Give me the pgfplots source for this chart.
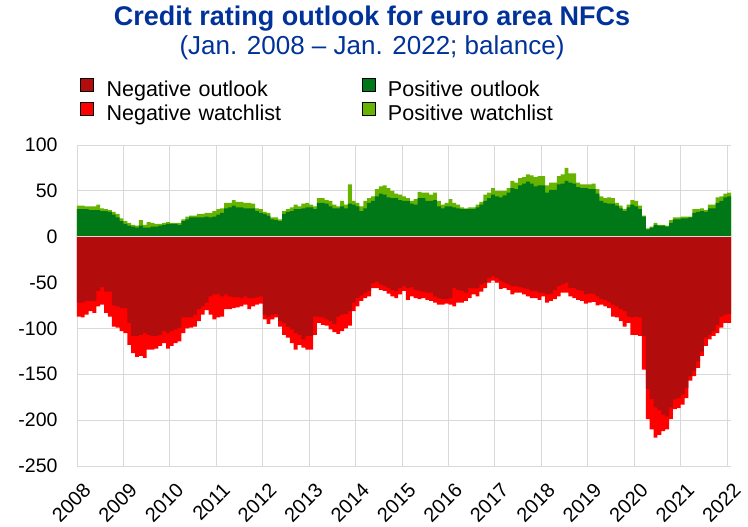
\documentclass[border=0pt]{standalone}
\usepackage{pgfplots}
\pgfplotsset{compat=1.18}
\usepackage{pgfplotstable}
\usepackage{fontspec}
\setmainfont{Liberation Sans}

\definecolor{negout}{RGB}{178,12,12}
\definecolor{negwatch}{RGB}{255,0,0}
\definecolor{posout}{RGB}{0,120,24}
\definecolor{poswatch}{RGB}{102,180,0}
\definecolor{ecbblue}{RGB}{0,50,153}
\definecolor{gridgray}{RGB}{217,217,217}

% month index (0 = Jan 2008), positive outlook / watchlist, negative outlook / watchlist
\pgfplotstableread{
m po pw no nw
0 30 4 -72 -15
1 30 4 -72 -16
2 30 3 -70 -15
3 29 4 -70 -11
4 29 4 -70 -13
5 29 6 -59 -17
6 28 3 -55 -19
7 28 2 -60 -23
8 27 2 -60 -27
9 24 3 -75 -23
10 21 4 -76 -23
11 17 3 -78 -25
12 14 3 -78 -27
13 12 3 -94 -24
14 11 2 -108 -19
15 10 2 -108 -23
16 12 6 -107 -23
17 10 3 -105 -27
18 10 6 -107 -16
19 11 4 -108 -15
20 11 3 -108 -14
21 12 2 -107 -12
22 13 2 -103 -13
23 14 2 -105 -17
24 14 1 -103 -16
25 14 1 -101 -15
26 13 2 -99 -15
27 17 2 -88 -17
28 19 3 -88 -12
29 21 2 -88 -11
30 21 2 -85 -13
31 21 4 -79 -13
32 21 4 -76 -9
33 22 4 -72 -8
34 21 5 -65 -20
35 22 6 -63 -27
36 24 6 -63 -25
37 26 5 -65 -22
38 31 6 -63 -16
39 32 5 -65 -14
40 34 6 -66 -12
41 32 6 -66 -11
42 32 6 -67 -9
43 31 6 -65 -9
44 31 6 -67 -12
45 31 5 -67 -9
46 28 3 -66 -8
47 26 4 -65 -8
48 25 2 -85 -5
49 23 3 -87 -8
50 19 2 -85 -5
51 18 3 -84 -4
52 17 2 -92 -6
53 25 3 -94 -13
54 27 3 -98 -12
55 28 4 -101 -15
56 30 5 -105 -18
57 30 3 -107 -11
58 31 5 -112 -9
59 32 5 -108 -15
60 32 3 -108 -15
61 30 3 -87 -20
62 37 5 -87 -7
63 37 5 -88 -8
64 36 4 -90 -7
65 33 6 -92 -9
66 31 4 -95 -9
67 31 2 -87 -19
68 33 6 -85 -18
69 31 4 -84 -16
70 36 21 -81 -16
71 35 4 -72 -9
72 33 4 -67 -9
73 28 5 -64 -6
74 31 8 -61 -6
75 37 5 -59 -6
76 39 5 -51 -5
77 44 8 -49 -7
78 47 8 -52 -6
79 46 10 -54 -5
80 43 10 -56 -6
81 42 8 -58 -7
82 42 5 -59 -8
83 40 6 -56 -7
84 39 5 -54 -5
85 39 3 -56 -13
86 36 3 -55 -10
87 35 6 -58 -9
88 42 7 -59 -9
89 42 6 -60 -7
90 39 9 -61 -8
91 39 7 -61 -9
92 40 8 -65 -7
93 33 6 -67 -7
94 31 4 -68 -6
95 33 4 -68 -5
96 33 8 -67 -7
97 32 5 -56 -20
98 31 4 -58 -14
99 30 2 -59 -13
100 30 1 -61 -9
101 30 2 -56 -11
102 30 2 -56 -7
103 32 3 -56 -9
104 35 3 -52 -8
105 39 7 -50 -6
106 42 6 -45 -5
107 46 7 -43 -5
108 44 6 -45 -5
109 43 7 -48 -9
110 45 5 -50 -6
111 48 5 -52 -6
112 53 8 -54 -9
113 52 7 -54 -7
114 56 8 -55 -6
115 58 7 -56 -7
116 60 8 -57 -8
117 58 9 -59 -8
118 55 10 -59 -8
119 56 10 -61 -8
120 56 10 -61 -4
121 48 8 -63 -9
122 51 8 -62 -8
123 51 8 -58 -10
124 57 9 -54 -11
125 58 10 -52 -9
126 61 14 -50 -11
127 59 10 -56 -9
128 58 11 -56 -11
129 54 5 -58 -11
130 53 4 -59 -11
131 53 4 -63 -10
132 52 5 -62 -10
133 52 6 -62 -9
134 47 5 -65 -10
135 39 5 -68 -6
136 37 5 -69 -7
137 36 7 -71 -7
138 36 6 -74 -13
139 34 3 -76 -12
140 31 3 -79 -13
141 28 2 -81 -17
142 32 3 -87 -7
143 35 5 -88 -19
144 33 6 -87 -20
145 30 4 -88 -20
146 22 1 -108 -37
147 8 1 -166 -33
148 10 1 -177 -33
149 13 2 -186 -33
150 12 1 -189 -27
151 12 1 -194 -18
152 11 1 -196 -14
153 15 3 -186 -13
154 19 2 -177 -11
155 19 2 -176 -11
156 20 2 -172 -11
157 20 2 -165 -11
158 21 1 -152 -5
159 26 4 -146 -6
160 27 3 -136 -7
161 28 3 -125 -5
162 27 2 -110 -9
163 31 4 -107 -5
164 31 4 -103 -5
165 37 6 -96 -9
166 39 5 -87 -12
167 43 4 -85 -9
168 44 4 -84 -10
169 44 4 -84 -10
}\ratings

\begin{document}
\begin{tikzpicture}
\path[use as bounding box] (-77pt,-61pt) rectangle (671pt,466pt);

\node[font=\bfseries\fontsize{27}{32}\selectfont, text=ecbblue] at (295pt,447pt)
    {Credit rating outlook for euro area NFCs};
\node[font=\fontsize{26}{31}\selectfont, text=ecbblue] at (295pt,418pt)
    {(Jan. 2008 – Jan. 2022; balance)};

\begin{axis}[
    at={(0pt,0pt)}, anchor=south west,
    width=654pt, height=321pt, scale only axis,
    xmin=0, xmax=169, ymin=-250, ymax=100,
    xtick={0,12,...,168},
    xticklabels={2008,2009,2010,2011,2012,2013,2014,2015,2016,2017,2018,2019,2020,2021,2022},
    ytick={-250,-200,-150,-100,-50,0,50,100},
    yticklabels={-250,-200,-150,-100,-50,0,50,100},
    grid=major, major grid style={gridgray, line width=0.9pt},
    axis line style={draw=none}, tick style={draw=none},
    xticklabel style={font=\fontsize{20}{23}\selectfont, inner sep=1pt,
        xshift=5pt, yshift=-14pt, rotate=45, anchor=north east},
    yticklabel style={font=\fontsize{19.5}{22}\selectfont, xshift=-16pt},
    legend columns=2,
    legend cell align=left,
    legend image code/.code={\fill[#1] (0pt,0pt) rectangle (13pt,13pt);},
    legend style={at={(axis description cs:0,1)}, anchor=north west,
        xshift=3pt, yshift=67pt, draw=none, fill=none, inner sep=0pt,
        font=\fontsize{21.5}{23}\selectfont, row sep=0pt,
        nodes={inner sep=1pt, text height=15pt, text depth=5pt, text width=246pt},
        /tikz/every odd column/.append style={column sep=12pt},
        /tikz/every even column/.append style={column sep=8pt}},
]
\addlegendimage{fill=negout}
\addlegendentry{Negative outlook}
\addlegendimage{fill=posout}
\addlegendentry{Positive outlook}
\addlegendimage{fill=negwatch}
\addlegendentry{Negative watchlist}
\addlegendimage{fill=poswatch}
\addlegendentry{Positive watchlist}

\addplot[const plot, fill=poswatch, draw=none, forget plot]
    table[x=m, y expr=\thisrow{po}+\thisrow{pw}] {\ratings} \closedcycle;
\addplot[const plot, fill=posout, draw=none, forget plot]
    table[x=m, y=po] {\ratings} \closedcycle;
\addplot[const plot, fill=negwatch, draw=none, forget plot]
    table[x=m, y expr=\thisrow{no}+\thisrow{nw}] {\ratings} \closedcycle;
\addplot[const plot, fill=negout, draw=none, forget plot]
    table[x=m, y=no] {\ratings} \closedcycle;

\draw[gridgray, line width=1pt] (axis cs:0,0) -- (axis cs:169,0);
\end{axis}
\end{tikzpicture}
\end{document}
